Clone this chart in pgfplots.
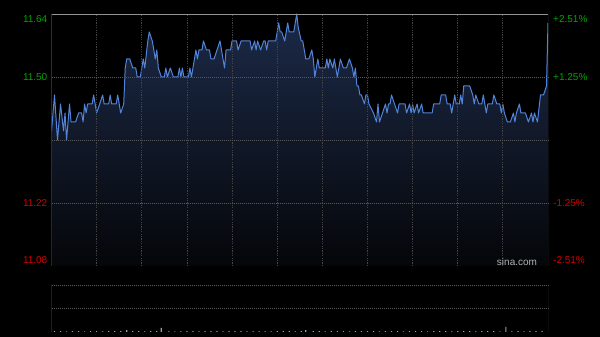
\documentclass[border=0pt]{standalone}
\usepackage{fontspec}
\setmainfont{Liberation Sans}
\usepackage{pgfplots}
\usepackage{pgfplotstable}
\pgfplotsset{compat=1.18}
\definecolor{linec}{RGB}{82,132,218}
\definecolor{filltop}{RGB}{28,42,72}
\definecolor{fillbot}{RGB}{5,6,9}
\definecolor{gridc}{RGB}{68,68,68}
\definecolor{hgridc}{RGB}{88,88,88}
\definecolor{basec}{RGB}{100,100,100}
\definecolor{borderc}{RGB}{90,90,90}
\definecolor{lgreen}{RGB}{0,165,0}
\definecolor{lred}{RGB}{210,0,0}
\pgfplotstableread{
m p
0 11.38
2 11.46
4 11.36
6 11.44
8 11.38
9 11.42
10 11.36
12 11.44
13 11.40
16 11.40
18 11.42
20 11.42
21 11.40
22 11.44
23 11.42
24 11.44
27 11.44
28 11.46
30 11.42
32 11.44
34 11.46
35 11.44
38 11.44
39 11.46
40 11.44
43 11.44
44 11.46
46 11.42
48 11.44
49 11.52
50 11.54
52 11.54
54 11.52
56 11.52
57 11.50
59 11.50
61 11.54
62 11.52
64 11.58
65 11.60
67 11.58
68 11.56
69 11.54
70 11.56
71 11.52
73 11.50
75 11.50
76 11.52
77 11.50
79 11.52
81 11.50
84 11.50
85 11.52
86 11.50
87 11.52
88 11.50
91 11.50
92 11.52
93 11.50
95 11.54
96 11.56
97 11.54
98 11.56
100 11.56
101 11.58
103 11.56
105 11.56
106 11.54
108 11.54
110 11.56
112 11.58
113 11.56
115 11.52
116 11.56
119 11.56
120 11.58
123 11.58
124 11.56
126 11.58
132 11.58
133 11.56
135 11.58
136 11.56
137 11.58
139 11.56
141 11.58
142 11.58
143 11.56
144 11.58
149 11.58
151 11.62
152 11.60
153 11.60
155 11.58
157 11.62
158 11.60
161 11.60
163 11.64
164 11.61
166 11.58
167 11.58
169 11.54
171 11.54
173 11.56
174 11.54
175 11.50
177 11.54
178 11.52
182 11.52
183 11.54
184 11.52
185 11.54
187 11.52
188 11.54
190 11.50
191 11.52
192 11.54
194 11.52
196 11.52
198 11.54
200 11.52
201 11.50
202 11.52
203 11.48
204 11.48
205 11.46
206 11.46
208 11.44
209 11.46
210 11.46
211 11.44
214 11.42
216 11.40
217 11.44
218 11.40
220 11.42
222 11.44
223 11.42
224 11.44
225 11.44
226 11.46
228 11.44
230 11.42
231 11.44
235 11.44
236 11.42
238 11.44
239 11.42
240 11.44
241 11.42
243 11.44
244 11.42
246 11.44
247 11.42
253 11.42
254 11.44
258 11.44
259 11.46
262 11.46
263 11.44
265 11.44
266 11.42
268 11.46
269 11.44
271 11.44
272 11.46
273 11.44
274 11.48
278 11.48
280 11.46
281 11.44
282 11.46
284 11.44
286 11.44
287 11.46
288 11.44
289 11.42
290 11.44
293 11.44
294 11.46
296 11.44
298 11.44
299 11.42
300 11.44
301 11.42
303 11.40
305 11.40
307 11.42
308 11.40
309 11.42
311 11.44
312 11.42
315 11.42
317 11.40
319 11.42
320 11.40
321 11.42
323 11.40
325 11.46
327 11.46
329 11.48
330 11.62
}\pricedata
\pgfplotstableread{
m v
2 2
6 2
10 1.5
14 2
18 2
22 1.5
26 2
30 2
34 1.5
38 2
42 2
46 2
50 4
54 2
58 2
62 1.5
66 2
70 2
73 9
78 2
82 1.5
86 2
90 2
94 2
98 1.5
102 2
106 2
110 2
114 1.5
118 2
122 2
126 2
130 1.5
134 2
138 2
142 2
146 1.5
150 2
154 2
158 2
162 1.5
166 2
169 4
174 2
178 2
182 1.5
186 2
190 2
194 2
198 1.5
202 2
206 2
210 2
214 2
218 1.5
222 2
226 2
230 2
234 1.5
238 2
242 2
246 2
250 1.5
254 2
258 2
262 2
266 1.5
270 2
274 2
278 2
282 1.5
286 2
290 2
294 2
298 1.5
302 11
306 2
310 2
314 1.5
318 2
322 2
326 2
}\voldata
\begin{document}
\begin{tikzpicture}
\path[use as bounding box] (0pt,0pt) rectangle (600pt,337pt);
\fill[black] (0pt,0pt) rectangle (600pt,337pt);
\begin{axis}[
  at={(51.5pt,71pt)}, anchor=south west,
  scale only axis, width=496.5pt, height=252pt,
  xmin=0, xmax=330, ymin=11.08, ymax=11.64,
  axis line style={draw=none},
  xtick={30,60,...,300}, xticklabels={},
  ytick={11.22,11.50}, yticklabels={},
  extra y ticks={11.36}, extra y tick labels={},
  extra y tick style={grid style={draw=basec, dash pattern=on 3pt off 1pt on 1pt off 1pt, line width=0.8pt}},
  major tick length=0pt,
  xmajorgrids, ymajorgrids,
  x grid style={draw=gridc, dash pattern=on 1.2pt off 1.2pt, line width=0.8pt},
  y grid style={draw=hgridc, dash pattern=on 1pt off 1pt, line width=0.7pt},
  axis on top,
]
\fill[top color=filltop, bottom color=fillbot] (rel axis cs:0,0) rectangle (rel axis cs:1,1);
\addplot[fill=black, draw=none, forget plot] table[x=m,y=p] {\pricedata} -- (axis cs:330,11.65) -- (axis cs:0,11.65) -- cycle;
\addplot[linec, line width=1pt, line join=round] table[x=m,y=p] {\pricedata};
\draw[borderc, line width=0.9pt] (rel axis cs:0,1) -- (rel axis cs:0,0) -- (rel axis cs:1,0) -- (rel axis cs:1,1);
\draw[gray!85, line width=0.9pt] (rel axis cs:0,1) -- (rel axis cs:1,1);
\end{axis}
\begin{axis}[
  at={(51.5pt,5pt)}, anchor=south west,
  scale only axis, width=496.5pt, height=47pt,
  xmin=0, xmax=330, ymin=0, ymax=100,
  axis line style={draw=none},
  xtick=\empty, ytick={50,100}, yticklabels={},
  major tick length=0pt,
  ymajorgrids,
  y grid style={draw=hgridc, dash pattern=on 1pt off 1pt, line width=0.7pt},
]
\addplot[ybar, bar width=1.2pt, fill=gray!75, draw=none] table[x=m,y=v] {\voldata};
\draw[borderc, line width=0.9pt] (rel axis cs:0,1) -- (rel axis cs:0,0) -- (rel axis cs:1,0) -- (rel axis cs:1,1);
\end{axis}
\begin{scope}[font=\fontsize{10}{12}\selectfont]
\node[anchor=east, text=lgreen, inner sep=0pt] at (47.5pt,318pt) {11.64};
\node[anchor=east, text=lgreen, inner sep=0pt] at (47.5pt,260pt) {11.50};
\node[anchor=east, text=lred, inner sep=0pt] at (47.5pt,134pt) {11.22};
\node[anchor=east, text=lred, inner sep=0pt] at (47.5pt,76.5pt) {11.08};
\node[anchor=west, text=lgreen, inner sep=0pt] at (553pt,317.5pt) {+2.51\%};
\node[anchor=west, text=lgreen, inner sep=0pt] at (553pt,260pt) {+1.25\%};
\node[anchor=west, text=lred, inner sep=0pt] at (553pt,134pt) {-1.25\%};
\node[anchor=west, text=lred, inner sep=0pt] at (553pt,77pt) {-2.51\%};
\node[text=gray!60!white, inner sep=0pt] at (517pt,75pt) {sina.com};
\end{scope}
\end{tikzpicture}
\end{document}
